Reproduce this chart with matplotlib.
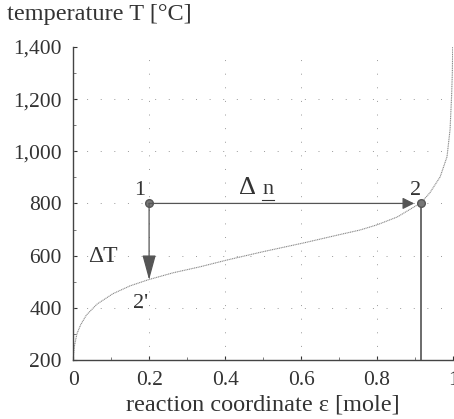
import matplotlib.pyplot as plt
from matplotlib.ticker import MultipleLocator

# equilibrium curve T(xi)
xi = [0.0, 0.003, 0.01, 0.02, 0.035, 0.063, 0.105, 0.15, 0.197, 0.263, 0.334, 0.405, 0.5, 0.608,
      0.7, 0.755, 0.8, 0.853, 0.884, 0.916, 0.939, 0.966, 0.984, 0.992, 0.996, 0.998, 0.999]
temp = [200, 250, 300, 335, 372, 414, 454, 484, 507, 534, 557, 583, 615, 649,
        680, 698, 718, 748, 775, 803, 841, 902, 979, 1083, 1210, 1300, 1400]

p1 = (0.2, 800)
p2 = (0.916, 800)
p2s = (0.2, 507)

xticks = [0, 0.2, 0.4, 0.6, 0.8, 1]
xlabels = ['0', '0.2', '0.4', '0.6', '0.8', '1']
yticks = [200, 400, 600, 800, 1000, 1200, 1400]
ylabels = ['200', '400', '600', '800', '1,000', '1,200', '1,400']

plt.rcParams['font.family'] = ['Liberation Serif', 'DejaVu Serif']
col = '#333333'

fig = plt.figure(figsize=(4.54, 4.19), dpi=100)
ax = fig.add_axes([0.161, 0.141, 0.837, 0.747])

ax.plot(xi, temp, color='#888888', lw=0.8, ls=(0, (1, 0.6)))

# grid
for x in [0.2, 0.4, 0.6, 0.8, 1.0]:
    ax.plot([x, x], [200, 1400], color='#999999', lw=0.7, ls=(0, (1, 13)))
for y in [400, 600, 800, 1000, 1200]:
    ax.plot([0, 1], [y, y], color='#999999', lw=0.7, ls=(0, (1, 13)))

# arrows
ax.annotate('', xy=p2, xytext=p1,
            arrowprops=dict(arrowstyle='-|>,head_length=0.5,head_width=0.25', color='#555555',
                            lw=0.9, mutation_scale=14, shrinkA=0, shrinkB=5))
ax.annotate('', xy=p2s, xytext=p1,
            arrowprops=dict(arrowstyle='-|>,head_length=1.1,head_width=0.3', color='#555555',
                            lw=0.9, mutation_scale=14, shrinkA=0, shrinkB=0))
ax.plot([p2[0], p2[0]], [200, p2[1]], color='#444444', lw=1.1)
ax.plot([p1[0], p2[0]], [p1[1], p2[1]], 'o', color='#777777', ms=5.5, mec='#555555')

ax.text(0.19, 812, '1', fontsize=16, color=col, ha='right', va='bottom')
ax.text(0.917, 812, '2', fontsize=16, color=col, ha='right', va='bottom')
ax.text(0.46, 816, 'Δ', fontsize=19, color=col, ha='center', va='bottom')
ax.text(0.513, 818, 'n', fontsize=16, color=col, ha='center', va='bottom')
ax.plot([0.497, 0.53], [812, 812], color=col, lw=0.8)
ax.text(0.04, 598, 'ΔT', fontsize=17, color=col, ha='left', va='center')
ax.text(0.177, 415, "2'", fontsize=16, color=col, ha='center', va='center')

ax.set_xlim(0, 1)
ax.set_ylim(200, 1400)
ax.set_xticks(xticks)
ax.set_xticklabels(xlabels)
ax.set_yticks(yticks)
ax.set_yticklabels(ylabels)
ax.xaxis.set_minor_locator(MultipleLocator(0.1))
ax.yaxis.set_minor_locator(MultipleLocator(100))
ax.tick_params(direction='in', length=3, labelsize=15.5, colors=col, pad=8)
ax.tick_params(which='minor', direction='in', length=2, colors='#666666')
for s in ['top', 'right']:
    ax.spines[s].set_visible(False)
for s in ['left', 'bottom']:
    ax.spines[s].set_color('#444444')
    ax.spines[s].set_linewidth(1.0)

fig.text(0.015, 0.99, 'temperature T [°C]', fontsize=17.5, color=col, ha='left', va='top')
ax.set_xlabel('reaction coordinate ' + 'ε' + ' [mole]', fontsize=17.5, color=col, labelpad=3)

fig.savefig('out.png', dpi=100)
